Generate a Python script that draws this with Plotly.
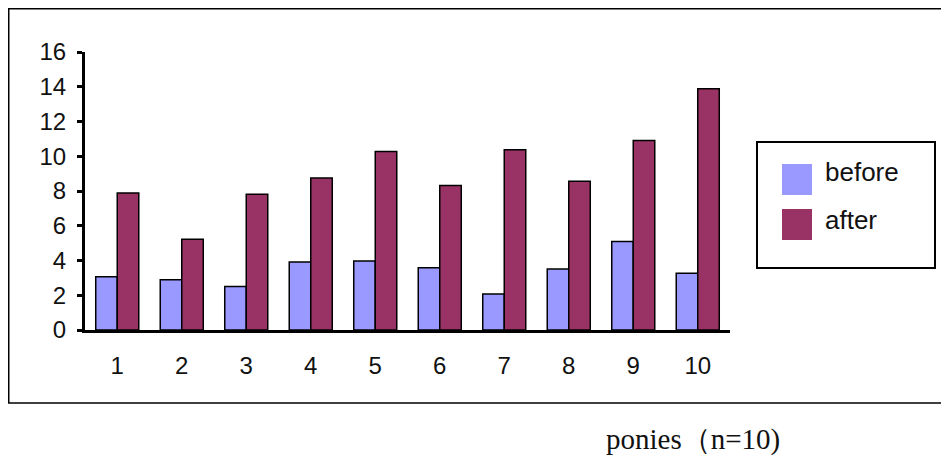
import plotly.graph_objects as go

ponies = ["1", "2", "3", "4", "5", "6", "7", "8", "9", "10"]
before = [3.06, 2.89, 2.51, 3.91, 3.97, 3.58, 2.07, 3.51, 5.10, 3.26]
after = [7.89, 5.23, 7.82, 8.75, 10.27, 8.31, 10.38, 8.56, 10.90, 13.89]
series_names = ["before", "after"]
series_colors = ["#9999FF", "#993366"]
y_ticks = [0, 2, 4, 6, 8, 10, 12, 14, 16]
x_title = "ponies（n=10)"

fig = go.Figure()
for name, vals, col in zip(series_names, [before, after], series_colors):
    fig.add_trace(go.Bar(
        x=ponies, y=vals, name=name,
        marker=dict(color=col, line=dict(color="black", width=1.5)),
        showlegend=False,
    ))

OFF = 8  # page body margin
W, H = 941, 449
L, R, T, B = 77, 219, 44, 127
pw, ph = W - L - R, H - T - B

def px(x):
    return (x - OFF - L) / pw

def py(y):
    return (H - B - (y - OFF)) / ph

fig.update_layout(
    width=W, height=H,
    margin=dict(l=L, r=R, t=T, b=B),
    paper_bgcolor="white", plot_bgcolor="white",
    barmode="group", bargap=0.333, bargroupgap=0,
    font=dict(family="Liberation Sans, Arial, sans-serif", size=24, color="#111"),
    xaxis=dict(
        type="category", range=[-0.5, 9.5],
        showline=True, linecolor="black", linewidth=3,
        ticks="", showgrid=False, zeroline=False,
        ticklabelstandoff=12,
    ),
    yaxis=dict(
        range=[0, 16], tickvals=y_ticks,
        showline=True, linecolor="black", linewidth=3,
        ticks="outside", ticklen=5, tickwidth=3, tickcolor="black",
        showgrid=False, zeroline=False,
        ticklabelstandoff=6,
    ),
    showlegend=False,
)

shapes = []
# outer border (right edge lies beyond the visible area)
shapes.append(dict(type="rect", xref="paper", yref="paper",
                   x0=px(8.75), x1=px(960), y0=py(403), y1=py(8.75),
                   line=dict(color="black", width=1.5), fillcolor="rgba(0,0,0,0)", layer="below"))
# legend box
shapes.append(dict(type="rect", xref="paper", yref="paper",
                   x0=px(757), x1=px(935), y0=py(268), y1=py(142),
                   line=dict(color="black", width=2), fillcolor="white"))
ann = []
legend_rows = [(164, 195, 172), (209, 240, 220)]
for (ya, yb, yc), name, col in zip(legend_rows, series_names, series_colors):
    shapes.append(dict(type="rect", xref="paper", yref="paper",
                       x0=px(782), x1=px(812), y0=py(yb), y1=py(ya),
                       line=dict(width=0), fillcolor=col))
    ann.append(dict(xref="paper", yref="paper", x=px(823), y=py(yc),
                    xanchor="left", yanchor="middle", text=name, showarrow=False,
                    font=dict(family="Liberation Sans, Arial, sans-serif", size=26, color="#111")))
ann.append(dict(xref="paper", yref="paper", x=px(693), y=py(439),
                xanchor="center", yanchor="middle", text=x_title, showarrow=False,
                font=dict(family="Liberation Serif, Times New Roman, serif", size=29, color="#111")))
fig.update_layout(shapes=shapes, annotations=ann)

fig.write_html("out.html")
